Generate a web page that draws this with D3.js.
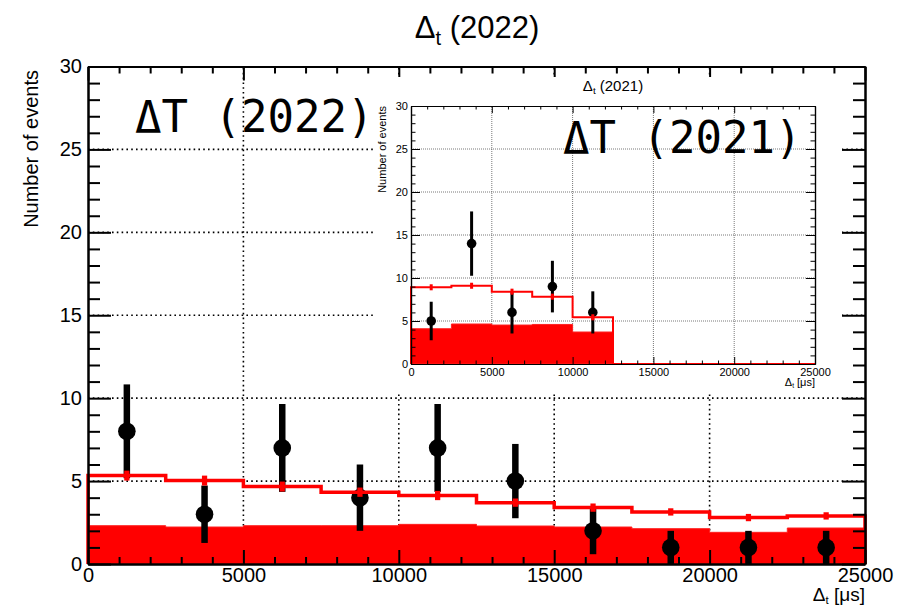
<!DOCTYPE html>
<html>
<head>
<meta charset="utf-8">
<script src="https://cdn.jsdelivr.net/npm/d3@7"></script>
<style>
  html, body { margin: 0; padding: 0; background: #fff; }
  svg { display: block; }
  .ax text { font-family: "Liberation Sans", Arial, sans-serif; fill: #000; }
</style>
</head>
<body>
<svg id="chart" width="910" height="606"></svg>
<script>
// ---------------- data ----------------
const binEdges = [0, 2500, 5000, 7500, 10000, 12500, 15000, 17500, 20000, 22500, 25000];

// 2022 (main)
const mainTotal    = [5.33, 5.03, 4.67, 4.33, 4.13, 3.70, 3.40, 3.14, 2.80, 2.90];
const mainTotalErr = [0.30, 0.30, 0.30, 0.28, 0.28, 0.25, 0.25, 0.22, 0.22, 0.22];
const mainBkg      = [2.31, 2.23, 2.31, 2.31, 2.39, 2.29, 2.23, 2.13, 1.91, 2.17];
const mainData     = [8, 3, 7, 4, 7, 5, 2, 1, 1, 1];
const mainDataErr  = [2.83, 1.73, 2.65, 2.0, 2.65, 2.24, 1.41, 1.0, 1.0, 1.0];

// 2021 (inset)
const insetTotal    = [8.92, 9.10, 8.41, 7.83, 5.43, 0, 0, 0, 0, 0];
const insetTotalErr = [0.35, 0.35, 0.35, 0.35, 0.35, 0, 0, 0, 0, 0];
const insetBkg      = [4.10, 4.65, 4.53, 4.60, 3.72, 0, 0, 0, 0, 0];
const insetData     = [5, 14, 6, 9, 6];
const insetDataErr  = [2.24, 3.74, 2.45, 3.0, 2.45];

const yMajor = [0, 5, 10, 15, 20, 25, 30];
const yMinor = d3.range(0, 31).filter(v => v % 5 !== 0);
const xMajor = [0, 5000, 10000, 15000, 20000, 25000];
const xMinor = d3.range(0, 25001, 1000).filter(v => v % 5000 !== 0);
const xGrid = [5000, 10000, 15000, 20000];
const yGrid = [5, 10, 15, 20, 25];

const svg = d3.select("#chart");
const FONT = '"Liberation Sans", Arial, Helvetica, sans-serif';
const MONO = '"DejaVu Sans Mono", "Liberation Mono", monospace';

function drawHistoPanel(g, o) {
  const x = d3.scaleLinear().domain([0, 25000]).range([o.x0, o.x1]);
  const y = d3.scaleLinear().domain([0, 30]).range([o.y0, o.y1]);
  const nb = binEdges.length - 1;

  // grid
  const grid = g.append("g");
  grid.selectAll("line.gx").data(xGrid).join("line")
    .attr("x1", d => x(d)).attr("x2", d => x(d))
    .attr("y1", y(0)).attr("y2", y(30))
    .attr("stroke", o.gridColor).attr("stroke-width", o.gridW).attr("stroke-dasharray", o.gridDash);
  grid.selectAll("line.gy").data(yGrid).join("line")
    .attr("x1", x(0)).attr("x2", x(25000))
    .attr("y1", d => y(d)).attr("y2", d => y(d))
    .attr("stroke", o.gridColor).attr("stroke-width", o.gridW).attr("stroke-dasharray", o.gridDash);

  function steps(vals) {
    const pts = [[x(binEdges[0]), y(0)]];
    for (let i = 0; i < nb; i++) {
      pts.push([x(binEdges[i]), y(vals[i])]);
      pts.push([x(binEdges[i + 1]), y(vals[i])]);
    }
    pts.push([x(binEdges[nb]), y(0)]);
    return pts;
  }
  // background fill
  g.append("path")
    .attr("d", d3.line()(steps(o.bkg)) + "Z")
    .attr("fill", "#ff0000").attr("stroke", "#ff2020").attr("stroke-width", 1);

  // data points
  const centers = d3.range(o.data.length).map(i => (binEdges[i] + binEdges[i + 1]) / 2);
  const pg = g.append("g");
  pg.selectAll("line").data(o.data).join("line")
    .attr("x1", (d, i) => x(centers[i])).attr("x2", (d, i) => x(centers[i]))
    .attr("y1", (d, i) => y(d - o.dataErr[i])).attr("y2", (d, i) => y(d + o.dataErr[i]))
    .attr("stroke", "#000").attr("stroke-width", o.errW);
  pg.selectAll("circle").data(o.data).join("circle")
    .attr("cx", (d, i) => x(centers[i])).attr("cy", d => y(d))
    .attr("r", o.markR).attr("fill", "#000");

  // total line
  g.append("path")
    .attr("d", d3.line()(steps(o.total)))
    .attr("fill", "none").attr("stroke", "#ff0000").attr("stroke-width", o.lineW)
    .attr("stroke-linejoin", "miter");
  const tc = d3.range(nb).filter(i => o.totalErr[i] > 0);
  g.append("g").selectAll("line").data(tc).join("line")
    .attr("x1", i => x((binEdges[i] + binEdges[i + 1]) / 2))
    .attr("x2", i => x((binEdges[i] + binEdges[i + 1]) / 2))
    .attr("y1", i => y(o.total[i] - o.totalErr[i]))
    .attr("y2", i => y(o.total[i] + o.totalErr[i]))
    .attr("stroke", "#ff0000").attr("stroke-width", o.lineW * 1.5);

  // axes
  const ax = g.append("g").attr("class", "ax");
  function addAxis(gen, tr, vals, size, labels, pad) {
    const a = ax.append("g").attr("transform", tr)
      .call(gen.tickValues(vals).tickSizeInner(size).tickSizeOuter(0).tickPadding(pad)
        .tickFormat(labels ? d3.format("d") : ""));
    a.select(".domain").attr("stroke", "#000").attr("stroke-width", o.frameW);
    a.selectAll(".tick line").attr("stroke", "#000").attr("stroke-width", o.tickW);
    a.selectAll("text").attr("font-size", o.labelSize).attr("font-family", FONT);
    return a;
  }
  addAxis(d3.axisLeft(y), `translate(${o.x0},0)`, yMajor, -o.yMaj, true, o.yPad);
  addAxis(d3.axisLeft(y), `translate(${o.x0},0)`, yMinor, -o.yMin, false, 0);
  addAxis(d3.axisRight(y), `translate(${o.x1},0)`, yMajor, -o.yMaj, false, 0);
  addAxis(d3.axisRight(y), `translate(${o.x1},0)`, yMinor, -o.yMin, false, 0);
  addAxis(d3.axisBottom(x), `translate(0,${o.y0})`, xMajor, -o.xMaj, true, o.xPad);
  addAxis(d3.axisBottom(x), `translate(0,${o.y0})`, xMinor, -o.xMin, false, 0);
  addAxis(d3.axisTop(x), `translate(0,${o.y1})`, xMajor, -o.xMaj, false, 0);
  addAxis(d3.axisTop(x), `translate(0,${o.y1})`, xMinor, -o.xMin, false, 0);

  // titles
  g.append("text")
    .attr("transform", `translate(${o.yTitleX},${o.yTitleEnd}) rotate(-90)`)
    .attr("text-anchor", "end").attr("font-family", FONT).attr("font-size", o.axTitleSize)
    .text("Number of events");
  const xs = o.xTitleSize || o.axTitleSize;
  const xt = g.append("text")
    .attr("x", o.x1).attr("y", o.xTitleY).attr("text-anchor", "end")
    .attr("font-family", FONT).attr("font-size", xs);
  xt.append("tspan").text("Δ");
  xt.append("tspan").attr("font-size", xs * 0.6).attr("dy", xs * 0.15).text("t");
  xt.append("tspan").attr("dy", -xs * 0.15).text(" [μs]");

  const tt = g.append("text")
    .attr("x", o.titleX).attr("y", o.titleY).attr("text-anchor", "middle")
    .attr("font-family", FONT).attr("font-size", o.titleSize);
  tt.append("tspan").text("Δ");
  tt.append("tspan").attr("font-size", o.titleSize * 0.65).attr("dy", o.titleSize * 0.22).text("t");
  tt.append("tspan").attr("dy", -o.titleSize * 0.22).text(" (" + o.year + ")");

  g.append("text")
    .attr("x", o.bigX).attr("y", o.bigY)
    .attr("font-family", MONO).attr("font-size", o.bigSize)
    .text("ΔT (" + o.year + ")");
}

// main panel
const gMain = svg.append("g");
drawHistoPanel(gMain, {
  x0: 88, x1: 865, y0: 564, y1: 66.5,
  total: mainTotal, totalErr: mainTotalErr, bkg: mainBkg, data: mainData, dataErr: mainDataErr,
  gridColor: "#000", gridW: 1.6, gridDash: "1.6,3.2",
  errW: 6.5, markR: 8.8, lineW: 3.5,
  frameW: 2, tickW: 2,
  yMaj: 23, yMin: 12, xMaj: 14, xMin: 7,
  labelSize: 20, yPad: 6, xPad: 4,
  axTitleSize: 20, xTitleSize: 19, yTitleX: 38, yTitleEnd: 70, xTitleY: 601,
  titleX: 477, titleY: 38, titleSize: 31, year: "2022",
  bigX: 135, bigY: 132, bigSize: 44
});

// inset
const gIn = svg.append("g");
gIn.append("rect").attr("x", 376).attr("y", 77).attr("width", 466).attr("height", 315).attr("fill", "#fff");
drawHistoPanel(gIn, {
  x0: 411, x1: 815, y0: 364, y1: 106,
  total: insetTotal, totalErr: insetTotalErr, bkg: insetBkg, data: insetData, dataErr: insetDataErr,
  gridColor: "#555", gridW: 0.8, gridDash: "1,1",
  errW: 3, markR: 4.8, lineW: 2,
  frameW: 1.2, tickW: 1,
  yMaj: 9, yMin: 4.5, xMaj: 7, xMin: 3.5,
  labelSize: 11, yPad: 3, xPad: 4,
  axTitleSize: 11, yTitleX: 386, yTitleEnd: 106, xTitleY: 386,
  titleX: 613, titleY: 91, titleSize: 15, year: "2021",
  bigX: 563, bigY: 153, bigSize: 44
});
</script>
</body>
</html>
